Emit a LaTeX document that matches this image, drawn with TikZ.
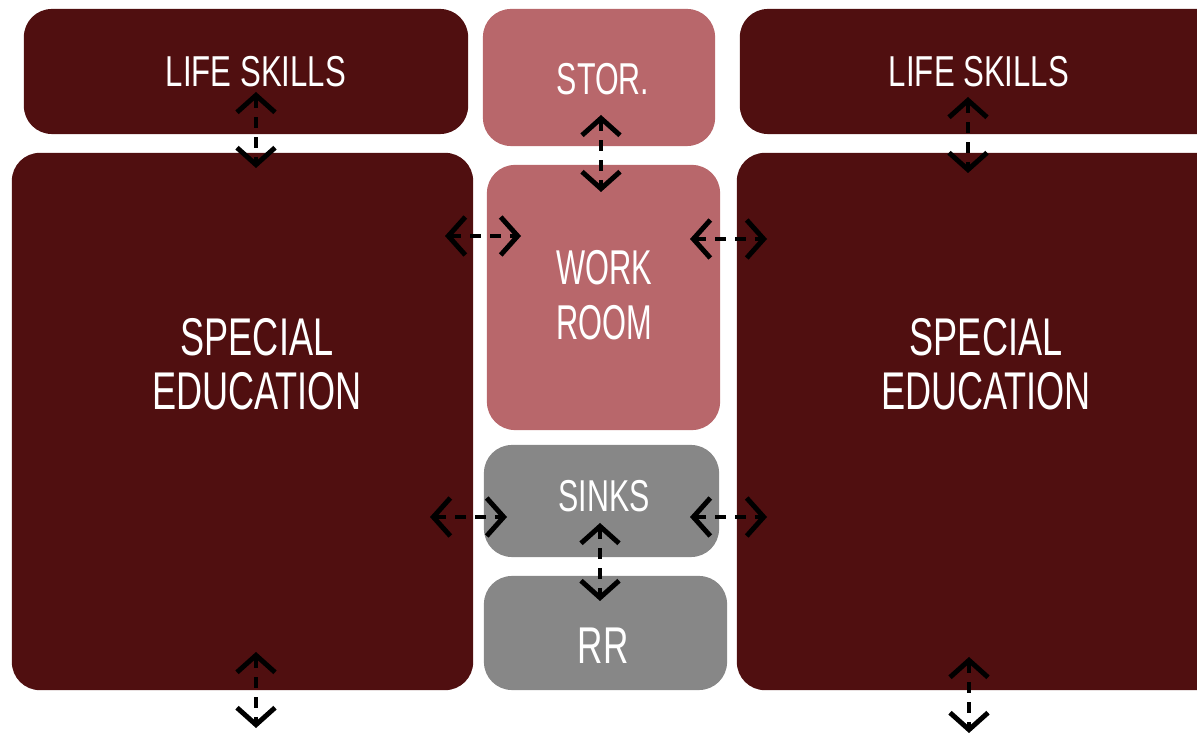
\documentclass[tikz,border=0pt]{standalone}
\usepackage{fontspec}
\setmainfont{Liberation Sans}[FakeStretch=0.68]
\newfontfamily\wideface{Liberation Sans}[FakeStretch=0.72]
\newfontfamily\slimface{Liberation Sans}[FakeStretch=0.63]
\definecolor{maroon1}{RGB}{80, 15, 16}
\definecolor{rose1}{RGB}{184, 103, 107}
\definecolor{grey1}{RGB}{135, 135, 135}
\usetikzlibrary{arrows.meta}

\begin{document}
\begin{tikzpicture}[x=0.01cm, y=-0.01cm,
  room/.style={rounded corners=2.8mm, inner sep=0pt, draw=none},
  lbl/.style={text=white, align=center, inner sep=0pt},
  link/.style={{Straight Barb[length=1.7mm, width=3.8mm]}-{Straight Barb[length=1.7mm, width=3.8mm]},
               line width=1.4pt, dash pattern=on 3pt off 2.6pt, black},
]
\useasboundingbox (0,0) rectangle (1197,734);
\clip (0,0) rectangle (1197,734);

% Left wing
\node[room, fill=maroon1, minimum width=4.44cm, minimum height=1.25cm] (ls1) at (246,71.5) {};
\node[room, fill=maroon1, minimum width=4.61cm, minimum height=5.37cm] (se1) at (242.5,421.5) {};

% Core
\node[room, fill=rose1, minimum width=2.32cm, minimum height=1.37cm] (stor) at (599,77.5) {};
\node[room, fill=rose1, minimum width=2.33cm, minimum height=2.65cm] (work) at (603.5,297.5) {};
\node[room, fill=grey1, minimum width=2.35cm, minimum height=1.12cm] (sinks) at (601.5,501) {};
\node[room, fill=grey1, minimum width=2.43cm, minimum height=1.14cm] (rr) at (605.5,633) {};

% Right wing
\node[room, fill=maroon1, minimum width=4.90cm, minimum height=1.25cm] (ls2) at (985,71.5) {};
\node[room, fill=maroon1, minimum width=4.93cm, minimum height=5.37cm] (se2) at (983.5,421.5) {};

% Labels
\node[lbl, font=\wideface\fontsize{12.3}{14}\selectfont, anchor=base] (tls1) at (256,87) {LIFE SKILLS};
\node[lbl, font=\wideface\fontsize{12.3}{14}\selectfont, anchor=base] (tls2) at (979,87) {LIFE SKILLS};
\node[lbl, font=\fontsize{15.1}{15.4}\selectfont] (tse1) at (257,364) {SPECIAL\\EDUCATION};
\node[lbl, font=\fontsize{15.1}{15.4}\selectfont] (tse2) at (986,364) {SPECIAL\\EDUCATION};
\node[lbl, font=\fontsize{12.7}{14}\selectfont, anchor=base] (tstor) at (603,95) {STOR.};
\node[lbl, font=\slimface\fontsize{13.9}{15.6}\selectfont] (twork) at (604,295) {WORK\\ROOM};
\node[lbl, font=\fontsize{12.7}{14}\selectfont, anchor=base] (tsinks) at (604,512) {SINKS};
\node[lbl, font=\fontsize{14.7}{16}\selectfont, anchor=base] (trr) at (603,664) {RR};

% Arrow ends
\coordinate (ls1d) at (256,92);   \coordinate (se1u) at (256,168);
\coordinate (se1d) at (256,652);  \coordinate (out1) at (256,728);
\coordinate (ls2d) at (968,97);   \coordinate (se2u) at (968,173);
\coordinate (se2d) at (969,657);  \coordinate (out2) at (969,733);
\coordinate (stord) at (601,115); \coordinate (worku) at (601,192);
\coordinate (se1w) at (445,236);  \coordinate (workl) at (521,236);
\coordinate (workr) at (690,239); \coordinate (se2w) at (767,239);
\coordinate (se1s) at (430,517);  \coordinate (sinksl) at (507,517);
\coordinate (sinksr) at (690,517);\coordinate (se2s) at (767,517);
\coordinate (sinksd) at (600,523);\coordinate (rru) at (600,601);

% Links
\draw[link] (ls1d) -- (se1u);
\draw[link] (se1d) -- (out1);
\draw[link] (ls2d) -- (se2u);
\draw[link] (se2d) -- (out2);
\draw[link] (stord) -- (worku);
\draw[link] (se1w) -- (workl);
\draw[link] (workr) -- (se2w);
\draw[link] (se1s) -- (sinksl);
\draw[link] (sinksr) -- (se2s);
\draw[link] (sinksd) -- (rru);
\end{tikzpicture}
\end{document}
